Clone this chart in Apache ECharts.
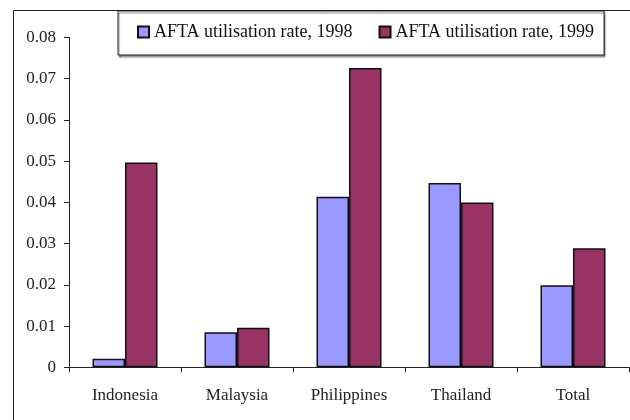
<!DOCTYPE html>
<html>
<head>
<meta charset="utf-8">
<script src="https://cdn.jsdelivr.net/npm/echarts@6/dist/echarts.min.js"></script>
<style>
  html, body { margin: 0; padding: 0; background: #fff; }
  #main { width: 630px; height: 420px; }
</style>
</head>
<body>
<div id="main"></div>
<script>
// data
var countries = ['Indonesia', 'Malaysia', 'Philippines', 'Thailand', 'Total'];
var rate1998 = [0.0021, 0.0085, 0.0414, 0.0447, 0.0199];
var rate1999 = [0.0497, 0.0096, 0.0726, 0.0400, 0.0289];
var seriesNames = ['AFTA utilisation rate, 1998', 'AFTA utilisation rate, 1999'];

var serif = '"Liberation Serif", "DejaVu Serif", serif';

var chart = echarts.init(document.getElementById('main'), null, { renderer: 'canvas' });

var option = {
  animation: false,
  backgroundColor: '#fff',
  textStyle: { fontFamily: serif },
  // outer frame of the chart area
  graphic: [{
    type: 'rect',
    left: 11, top: 8,
    shape: { width: 640, height: 430 },
    style: { fill: 'none', stroke: '#222', lineWidth: 1 },
    z: -1
  }],
  legend: {
    data: seriesNames,
    left: 118,
    top: 11,
    padding: [12, 10, 14, 19],
    itemGap: 26,
    itemWidth: 11,
    itemHeight: 11,
    icon: 'rect',
    backgroundColor: '#fff',
    borderColor: '#222',
    borderWidth: 1,
    shadowColor: 'rgba(0,0,0,0.45)',
    shadowOffsetX: 1,
    shadowOffsetY: 2,
    shadowBlur: 1,
    textStyle: { fontFamily: serif, fontSize: 18, color: '#111' }
  },
  grid: { left: 69, right: 1, top: 37.5, bottom: 52.7, containLabel: false },
  xAxis: {
    type: 'category',
    data: countries,
    boundaryGap: true,
    axisLine: { lineStyle: { color: '#222', width: 1 } },
    axisTick: { show: true, length: 5, alignWithLabel: false, lineStyle: { color: '#222' } },
    axisLabel: { fontFamily: serif, fontSize: 17, color: '#222', margin: 20 },
    splitLine: { show: false }
  },
  yAxis: {
    type: 'value',
    min: 0, max: 0.08, interval: 0.01,
    axisLine: { show: true, lineStyle: { color: '#222', width: 1 } },
    axisTick: { show: true, length: 5, lineStyle: { color: '#222' } },
    axisLabel: { fontFamily: serif, fontSize: 17, color: '#222', margin: 13 },
    splitLine: { show: false }
  },
  series: [{
    name: seriesNames[0],
    type: 'bar',
    data: rate1998,
    barWidth: 32.5,
    barGap: '0%',
    itemStyle: { color: '#9999ff', borderColor: '#111', borderWidth: 1.5 }
  }, {
    name: seriesNames[1],
    type: 'bar',
    data: rate1999,
    barWidth: 32.5,
    barGap: '0%',
    itemStyle: { color: '#993366', borderColor: '#111', borderWidth: 1.5 }
  }]
};

chart.setOption(option);
</script>
</body>
</html>
